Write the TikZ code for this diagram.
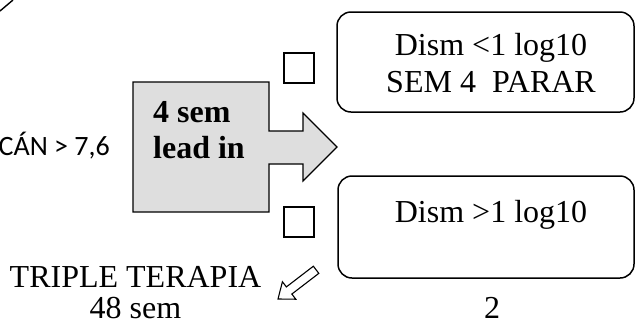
\documentclass[tikz,border=0pt]{standalone}
\usepackage{fontspec}
\setmainfont{Liberation Serif}
\newfontfamily\calibrifont{Carlito}
\begin{document}
\begin{tikzpicture}[x=1pt,y=-1pt,
  outline/.style={draw=black,line width=1.5pt},
  roundbox/.style={outline,rounded corners=14pt},
  checkbox/.style={outline,line width=1.4pt},
  leadarrow/.style={draw=black,line width=1.1pt,fill=black!13,line join=miter},
  bodytext/.style={font=\fontsize{32}{37}\selectfont,inner sep=0pt},
  sidetext/.style={font=\calibrifont\fontsize{28}{33}\selectfont,inner sep=0pt},
  hollowarrow/.style={draw=black,line width=1.1pt,fill=white,line join=miter}]
\useasboundingbox (0,0) rectangle (636,325);

% fragment of a line entering at the top left corner
\draw[line width=1.4pt] (0,11) -- (13,0);

% left label
\node[sidetext,anchor=base east] (ratio) at (110,155) {CÁN > 7,6};

% lead-in block with its right-pointing arrow
\draw[leadarrow] (133,82) -- (269,82) -- (269,131) -- (303,131) -- (303,113)
  -- (337,147) -- (303,181) -- (303,164) -- (269,164) -- (269,212) -- (133,212) -- cycle;
\node[bodytext,font=\bfseries\fontsize{32}{37}\selectfont,anchor=base west] (lead1) at (153,122) {4 sem};
\node[bodytext,font=\bfseries\fontsize{32}{37}\selectfont,anchor=base west] (lead2) at (153,158) {lead in};

% tick boxes
\draw[checkbox] (284,53) rectangle (314,83);
\draw[checkbox] (284,207) rectangle (314,237);

% outcome boxes
\draw[roundbox] (337,12) rectangle (634,112);
\node[bodytext,anchor=base] (low1) at (491,55) {Dism <1 log10};
\node[bodytext,anchor=base] (low2) at (491,92) {SEM 4~~PARAR};

\draw[roundbox] (338,176) rectangle (634,278);
\node[bodytext,anchor=base] (high) at (491,222) {Dism >1 log10};

% page number style label
\node[bodytext,anchor=base] (num) at (492,318) {2};

% triple therapy label with hollow pointer
\node[bodytext,anchor=base] (tt1) at (135.5,287) {TRIPLE TERAPIA};
\node[bodytext,anchor=base] (tt2) at (135.5,318) {48 sem};

\begin{scope}[shift={(278,299)},rotate=37.5]
  \draw[hollowarrow] (0,0) -- (14,-11) -- (14,-4.5) -- (48,-4.5) -- (48,4.5)
    -- (14,4.5) -- (14,11) -- cycle;
\end{scope}
\end{tikzpicture}
\end{document}
